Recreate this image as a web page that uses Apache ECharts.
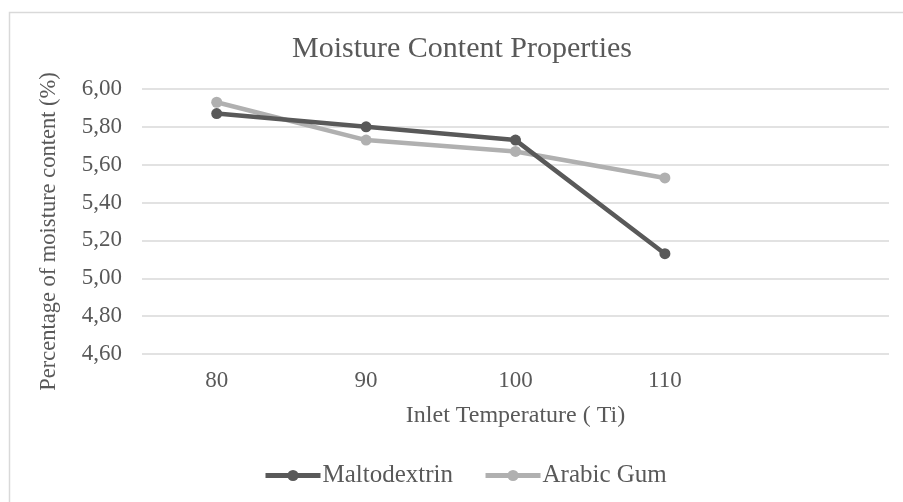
<!DOCTYPE html>
<html>
<head>
<meta charset="utf-8">
<script src="https://cdn.jsdelivr.net/npm/echarts@6/dist/echarts.min.js"></script>
<style>html,body{margin:0;padding:0;background:#fff;}#c{width:903px;height:502px;}</style>
</head>
<body>
<div id="c"></div>
<script>
const categories = ['80', '90', '100', '110', ''];
const maltodextrin = [5.87, 5.80, 5.73, 5.13];
const arabicGum = [5.93, 5.73, 5.67, 5.53];
const seriesNames = ['Maltodextrin', 'Arabic Gum'];
const titleText = 'Moisture Content Properties';
const xName = 'Inlet Temperature ( Ti)';
const yName = 'Percentage of moisture content (%)';

const font = 'Liberation Serif';
const txt = '#595959';
const chart = echarts.init(document.getElementById('c'));
chart.setOption({
  backgroundColor: '#fff',
  animation: false,
  graphic: [{
    type: 'rect', shape: { x: 9.5, y: 12.5, width: 900, height: 500 },
    style: { fill: 'none', stroke: '#d9d9d9', lineWidth: 1.5 }, silent: true, z: -1
  }],
  title: {
    text: titleText, left: 287, top: 29,
    textStyle: { fontFamily: font, fontSize: 30, fontWeight: 'normal', color: txt }
  },
  legend: {
    data: seriesNames, left: 258, top: 458, itemWidth: 55, itemHeight: 14, itemGap: 30,
    lineStyle: { width: 5 },
    textStyle: { fontFamily: font, fontSize: 25, color: txt, padding: [0, 0, 0, -3] }
  },
  grid: { left: 142, right: 14, top: 89, bottom: 148 },
  xAxis: {
    type: 'category', data: categories, boundaryGap: true,
    name: xName, nameLocation: 'middle', nameGap: 50,
    nameTextStyle: { fontFamily: font, fontSize: 24, color: txt },
    axisLine: { show: false }, axisTick: { show: false },
    axisLabel: { fontFamily: font, fontSize: 23, color: txt, margin: 15 }
  },
  yAxis: {
    type: 'value', min: 4.6, max: 6.0, interval: 0.2,
    name: yName, nameLocation: 'middle', nameGap: 81,
    nameTextStyle: { fontFamily: font, fontSize: 22.5, color: txt, padding: [0, 20, 0, 0] },
    axisLine: { show: false }, axisTick: { show: false },
    axisLabel: { fontFamily: font, fontSize: 23, color: txt, margin: 20,
      formatter: v => v.toFixed(2).replace('.', ',') },
    splitLine: { lineStyle: { color: '#d9d9d9', width: 1.5 } }
  },
  series: [
    { name: seriesNames[0], type: 'line', data: maltodextrin, symbol: 'circle', symbolSize: 11,
      itemStyle: { color: '#595959' }, lineStyle: { width: 4.5, color: '#595959' }, z: 3 },
    { name: seriesNames[1], type: 'line', data: arabicGum, symbol: 'circle', symbolSize: 11,
      itemStyle: { color: '#b0b0b0' }, lineStyle: { width: 4.5, color: '#b0b0b0' }, z: 2 }
  ]
});
</script>
</body>
</html>
